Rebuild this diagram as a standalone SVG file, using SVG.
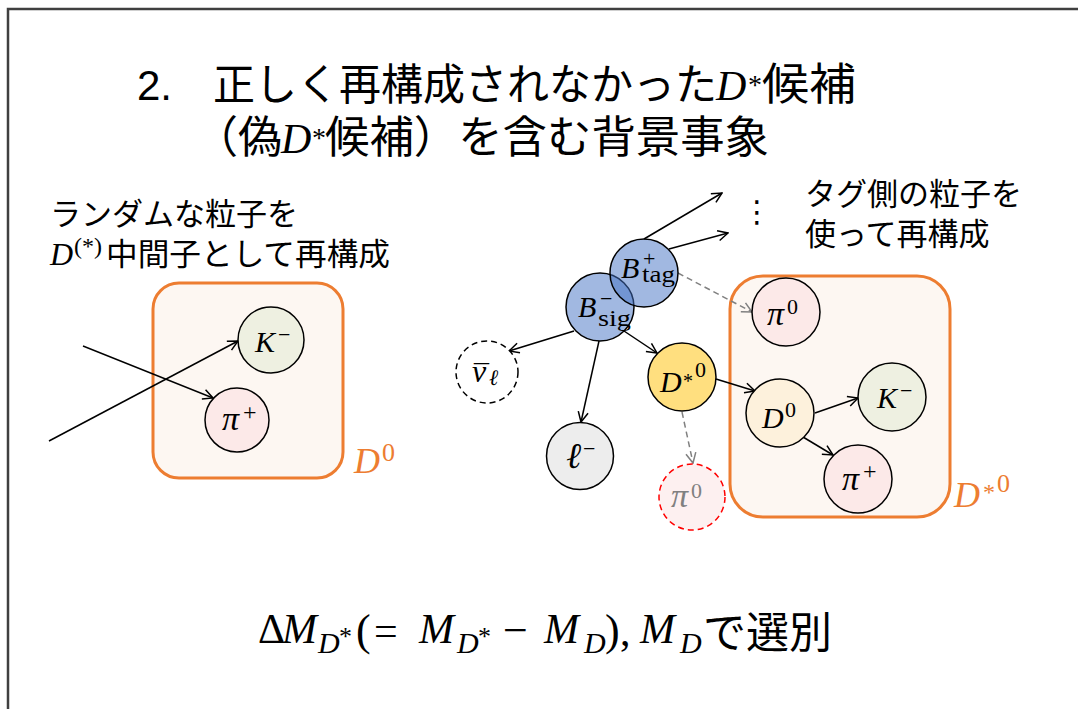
<svg xmlns="http://www.w3.org/2000/svg" width="1078" height="709" viewBox="0 0 1078 709">
<defs>
<style>
.cjk{font-family:"Noto Sans CJK JP","Noto Sans CJK SC",sans-serif;fill:#000}
.lat{font-family:"Liberation Sans",Arial,sans-serif;fill:#000}
.m{font-family:"Liberation Serif","DejaVu Serif",serif;font-style:italic;fill:#000}
.u{font-family:"Liberation Serif","DejaVu Serif",serif;fill:#000}
.nd{stroke:#000;stroke-width:1.5}
.conn{stroke:#000;stroke-width:1.5;fill:none;marker-end:url(#ah)}
.dconn{stroke:#808080;stroke-width:1.5;stroke-dasharray:6 4;fill:none;marker-end:url(#ahg)}
.box{fill:#FDF7F2;stroke:#ED7D31;stroke-width:3}
.or{fill:#ED7D31}
.gr{fill:#808080}
.kf{fill:#EEF0E1}
.pf{fill:#FCE9E8}
.bf{fill:#4472C4;fill-opacity:0.5}
</style>
<marker id="ah" viewBox="0 0 12 12" refX="11" refY="6" markerWidth="12" markerHeight="12" markerUnits="userSpaceOnUse" orient="auto"><path d="M1,1 L11,6 L1,11" fill="none" stroke="#000" stroke-width="1.5"/></marker>
<marker id="ahg" viewBox="0 0 12 12" refX="11" refY="6" markerWidth="12" markerHeight="12" markerUnits="userSpaceOnUse" orient="auto"><path d="M1,1 L11,6 L1,11" fill="none" stroke="#808080" stroke-width="1.5"/></marker>
</defs>
<rect x="0" y="0" width="1078" height="709" fill="#fff"/>
<rect x="8" y="9" width="1100" height="720" fill="none" stroke="#404040" stroke-width="2.5"/>

<g id="title">
<text class="lat" x="137" y="100" font-size="42">2.</text>
<text class="cjk" x="213" y="100" font-size="43" textLength="504" lengthAdjust="spacingAndGlyphs">正しく再構成されなかった</text>
<text class="m" x="716" y="100" font-size="42">D</text>
<text class="u" x="748" y="94" font-size="28">*</text>
<text class="cjk" x="762" y="100" font-size="44" textLength="94" lengthAdjust="spacingAndGlyphs">候補</text>
<text class="cjk" x="194" y="153" font-size="44">（</text>
<text class="cjk" x="238" y="153" font-size="44">偽</text>
<text class="m" x="281" y="153" font-size="42">D</text>
<text class="u" x="312" y="147" font-size="28">*</text>
<text class="cjk" x="325" y="153" font-size="44" textLength="444" lengthAdjust="spacingAndGlyphs">候補）を含む背景事象</text>
</g>

<g id="note-left">
<text class="cjk" x="50" y="225" font-size="31">ランダムな粒子を</text>
<text class="m" x="50" y="265" font-size="32">D</text>
<text class="u" x="74" y="254" font-size="24">(*)</text>
<text class="cjk" x="106" y="265" font-size="31" textLength="284" lengthAdjust="spacingAndGlyphs">中間子として再構成</text>
</g>

<g id="note-right">
<text class="cjk" x="805" y="205" font-size="31">タグ側の粒子を</text>
<text class="cjk" x="805" y="245" font-size="31">使って再構成</text>
<text x="757" y="222" font-size="30" text-anchor="middle" font-family="DejaVu Sans, sans-serif">⋮</text>
</g>

<g id="box-D0-left">
<rect class="box" x="153" y="283" width="190" height="195" rx="26"/>
<text class="m or" x="354" y="473" font-size="36">D</text>
<text class="u or" x="382" y="461" font-size="26">0</text>
</g>
<g id="box-Dstar0-right">
<rect class="box" x="730" y="276" width="220" height="241" rx="33"/>
<text class="m or" x="954" y="507" font-size="36">D</text>
<text class="u or" x="983" y="500" font-size="24">*</text>
<text class="u or" x="997" y="492" font-size="26">0</text>
</g>

<g id="connectors">
<line class="conn" x1="83" y1="346" x2="213" y2="398"/>
<line class="conn" x1="49" y1="441" x2="238" y2="341"/>
<line class="conn" x1="644" y1="239" x2="722" y2="193"/>
<line class="conn" x1="669" y1="249" x2="728" y2="233"/>
<line class="dconn" x1="678" y1="273" x2="752" y2="312"/>
<line class="conn" x1="574" y1="331" x2="509" y2="351"/>
<line class="conn" x1="599" y1="341" x2="581" y2="422"/>
<line class="conn" x1="624" y1="331" x2="657" y2="353"/>
<line class="dconn" x1="682" y1="412" x2="693" y2="463"/>
<line class="conn" x1="716" y1="379" x2="755" y2="391"/>
<line class="conn" x1="815" y1="413" x2="858" y2="398"/>
<line class="conn" x1="803" y1="437" x2="833" y2="455"/>
</g>

<g id="K-left">
<circle class="nd kf" cx="271" cy="340" r="33"/>
<text class="m" x="255" y="352" font-size="30">K</text>
<text class="u" x="278" y="342" font-size="22">−</text>
</g>
<g id="pi-plus-left">
<circle class="nd pf" cx="237" cy="420" r="32"/>
<text class="m" x="222" y="430" font-size="34">π</text>
<text class="u" x="243" y="420" font-size="24">+</text>
</g>

<g id="B-sig">
<circle class="nd bf" cx="600" cy="307" r="34"/>
<text class="m" x="578" y="317" font-size="30">B</text>
<text class="u" x="600" y="306" font-size="22">−</text>
<text class="u" x="598" y="326" font-size="24" textLength="33" lengthAdjust="spacingAndGlyphs">sig</text>
</g>
<g id="B-tag">
<circle class="nd bf" cx="644" cy="273" r="34"/>
<text class="m" x="621" y="278" font-size="30">B</text>
<text class="u" x="643" y="266" font-size="22">+</text>
<text class="u" x="642" y="282" font-size="24" textLength="33" lengthAdjust="spacingAndGlyphs">tag</text>
</g>
<g id="nubar">
<circle class="nd" cx="487" cy="372" r="31" fill="#fff" stroke-dasharray="6 4"/>
<text class="u" x="474" y="385" font-size="30">¯</text>
<text class="m" x="472" y="382" font-size="32">ν</text>
<text class="m" x="489" y="385" font-size="22">ℓ</text>
</g>
<g id="lepton">
<circle class="nd" cx="580" cy="456" r="33.5" fill="#EDEDED"/>
<text class="m" x="566" y="468" font-size="36">ℓ</text>
<text class="u" x="583" y="456" font-size="22">−</text>
</g>
<g id="Dstar0">
<circle class="nd" cx="682" cy="377" r="34" fill="#FFDF7F"/>
<text class="m" x="660" y="392" font-size="30">D</text>
<text class="u" x="683" y="388" font-size="20">*</text>
<text class="u" x="695" y="377" font-size="22">0</text>
</g>
<g id="pi0-missing">
<circle cx="692" cy="497" r="33" fill="#FDF0F0" stroke="#FF0000" stroke-width="1.5" stroke-dasharray="6 4"/>
<text class="m gr" x="671" y="507" font-size="34">π</text>
<text class="u gr" x="691" y="498" font-size="22">0</text>
</g>

<g id="pi0-box">
<circle class="nd pf" cx="786" cy="312" r="34"/>
<text class="m" x="767" y="325" font-size="34">π</text>
<text class="u" x="787" y="314" font-size="22">0</text>
</g>
<g id="D0">
<circle class="nd" cx="780" cy="413" r="34" fill="#FDF1DC"/>
<text class="m" x="762" y="428" font-size="30">D</text>
<text class="u" x="785" y="417" font-size="22">0</text>
</g>
<g id="K-right">
<circle class="nd kf" cx="892" cy="397" r="34"/>
<text class="m" x="877" y="408" font-size="30">K</text>
<text class="u" x="900" y="398" font-size="22">−</text>
</g>
<g id="pi-plus-right">
<circle class="nd pf" cx="858" cy="479" r="34"/>
<text class="m" x="842" y="490" font-size="34">π</text>
<text class="u" x="863" y="479" font-size="24">+</text>
</g>

<g id="formula">
<text class="u" x="258" y="643" font-size="42">Δ</text>
<text class="m" x="282" y="643" font-size="42">M</text>
<text class="m" x="318" y="653" font-size="30">D</text>
<text class="u" x="339" y="645" font-size="26">*</text>
<text class="u" x="356" y="645" font-size="44">(</text>
<text class="u" x="374" y="645" font-size="42">=</text>
<text class="m" x="419" y="643" font-size="42">M</text>
<text class="m" x="457" y="653" font-size="30">D</text>
<text class="u" x="478" y="645" font-size="26">*</text>
<text class="u" x="503" y="645" font-size="44">−</text>
<text class="m" x="544" y="643" font-size="42">M</text>
<text class="m" x="584" y="653" font-size="30">D</text>
<text class="u" x="605" y="645" font-size="44">)</text>
<text class="u" x="620" y="645" font-size="42">,</text>
<text class="m" x="640" y="643" font-size="42">M</text>
<text class="m" x="680" y="653" font-size="30">D</text>
<text class="cjk" x="703" y="648" font-size="43">で選別</text>
</g>
</svg>
